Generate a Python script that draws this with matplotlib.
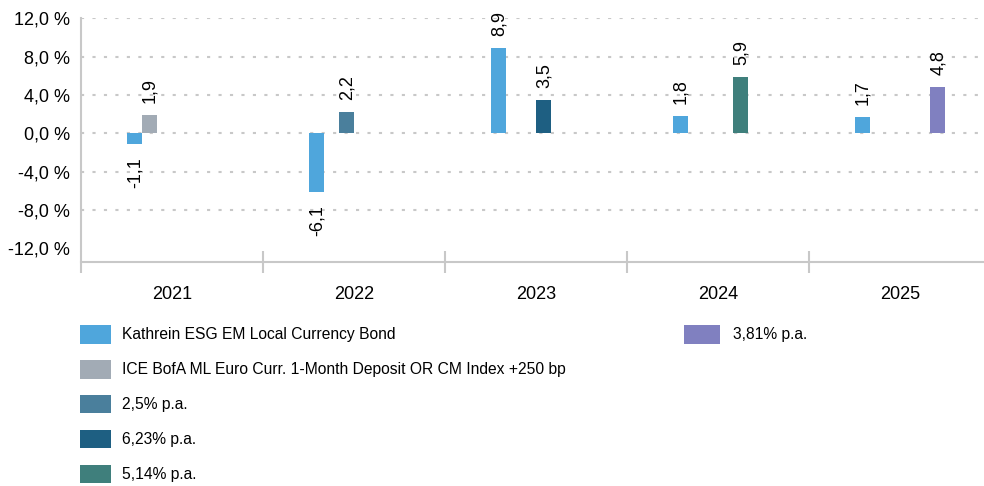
import numpy as np
import matplotlib.pyplot as plt
from matplotlib.patches import Patch

plt.rcParams['font.family'] = ['Liberation Sans', 'DejaVu Sans']
plt.rcParams['font.size'] = 13

# Daten
jahre = ['2021', '2022', '2023', '2024', '2025']
fonds = [-1.1, -6.1, 8.9, 1.8, 1.7]
ice_bofa = [1.9, np.nan, np.nan, np.nan, np.nan]
b_250 = [np.nan, 2.2, np.nan, np.nan, np.nan]
b_623 = [np.nan, np.nan, 3.5, np.nan, np.nan]
b_514 = [np.nan, np.nan, np.nan, 5.9, np.nan]
b_381 = [np.nan, np.nan, np.nan, np.nan, 4.8]

namen = ['Kathrein ESG EM Local Currency Bond',
         'ICE BofA ML Euro Curr. 1-Month Deposit OR CM Index +250 bp',
         '2,5% p.a.', '6,23% p.a.', '5,14% p.a.', '3,81% p.a.']
farben = ['#4fa6dc', '#a2abb5', '#4a7f9c', '#1e5f82', '#3f7f7c', '#8080c0']
reihen = [fonds, ice_bofa, b_250, b_623, b_514, b_381]

yticks = [12, 8, 4, 0, -4, -8, -12]
grau = '#c8c8c8'

fig = plt.figure(figsize=(9.84, 4.86), dpi=100)
ax = fig.add_axes([81 / 984, 1 - 262.3 / 486, 910 / 984, (262.3 - 18.3) / 486])

x = np.arange(len(jahre))
w = 1 / 12
for k, (werte, farbe) in enumerate(zip(reihen, farben)):
    pos = x + (k - 2.5) * w
    ax.bar(pos, werte, w, color=farbe, zorder=3)
    for xp, v in zip(pos, werte):
        if np.isnan(v):
            continue
        txt = f'{v:.1f}'.replace('.', ',')
        if v >= 0:
            ax.annotate(txt, (xp, v), xytext=(0.5, 8.5), textcoords='offset points',
                        rotation=90, ha='center', va='bottom', fontsize=13,
                        annotation_clip=False)
        else:
            ax.annotate(txt, (xp, v), xytext=(0.5, -9.5), textcoords='offset points',
                        rotation=90, ha='center', va='top', fontsize=13,
                        annotation_clip=False)

ax.set_xlim(-0.5, 4.5)
ax.set_ylim(-13.46, 12)

ax.set_yticks(yticks)
ax.set_yticklabels([f'{v:.1f} %'.replace('.', ',') for v in yticks])
ax.tick_params(axis='y', length=0, pad=8, labelsize=13)

ax.set_xticks(x)
ax.set_xticklabels(jahre)
ax.set_xticks(np.arange(-0.5, 5, 1), minor=True)
ax.tick_params(axis='x', which='major', length=0, pad=17, labelsize=13)
ax.tick_params(axis='x', which='minor', length=16, width=1.5, direction='inout', color=grau)

# gepunktete Hilfslinien, ohne -12
ax.yaxis.grid(True, color=grau, linestyle=(0, (1.5, 4)), linewidth=1.5, zorder=0)
for gl, t in zip(ax.get_ygridlines(), yticks):
    if t == -12:
        gl.set_visible(False)

for s in ['top', 'right']:
    ax.spines[s].set_visible(False)
ax.spines['left'].set_color(grau)
ax.spines['left'].set_linewidth(1.5)
ax.spines['left'].set_bounds(-12.2, 12)
ax.spines['bottom'].set_color(grau)
ax.spines['bottom'].set_linewidth(1.5)

# Legende
handles = [Patch(facecolor=f, edgecolor='none') for f in farben]
leg1 = fig.legend(handles[:5], namen[:5], loc='upper left',
                  bbox_to_anchor=(80 / 984, 1 - 325 / 486), frameon=False,
                  borderpad=0, borderaxespad=0, handlelength=1.99, handleheight=1.45,
                  handletextpad=0.7, labelspacing=1.05, fontsize=11.25)
leg2 = fig.legend(handles[5:], namen[5:], loc='upper left',
                  bbox_to_anchor=(684 / 984, 1 - 325 / 486), frameon=False,
                  borderpad=0, borderaxespad=0, handlelength=2.3, handleheight=1.45,
                  handletextpad=0.82, fontsize=11.25)

fig.savefig('out.png', dpi=100)
